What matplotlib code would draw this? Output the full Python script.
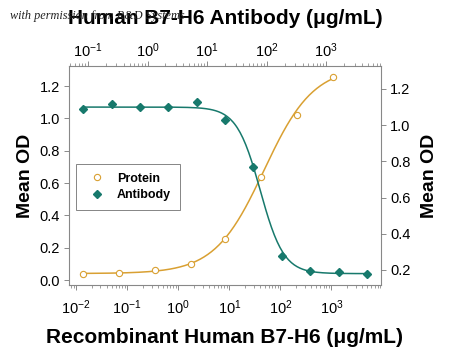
import numpy as np
import matplotlib
matplotlib.use("Agg")
import matplotlib.pyplot as plt
from matplotlib.ticker import LogLocator, NullFormatter, FixedLocator

plt.rcParams['font.family'] = ['Liberation Sans', 'DejaVu Sans']
plt.rcParams['mathtext.fontset'] = 'custom'
plt.rcParams['mathtext.rm'] = 'Liberation Sans'
plt.rcParams['axes.unicode_minus'] = False

# protein (bottom x, left y)
protein_conc = [0.0139, 0.068, 0.347, 1.75, 8.3, 41.9, 214, 1080]
protein_od = [0.035, 0.045, 0.062, 0.099, 0.254, 0.635, 1.02, 1.254]
# antibody (top x, right y)
antibody_conc = [0.0834, 0.25, 0.748, 2.24, 6.71, 20.1, 60, 180, 538, 1611, 4831]
antibody_od = [1.088, 1.117, 1.099, 1.099, 1.130, 1.029, 0.767, 0.279, 0.196, 0.187, 0.178]

# 4PL fit params read by eye: bottom, top, ec50, hill
protein_fit = (0.04, 1.32, 48.0, 0.9)
antibody_fit = (1.10, 0.18, 78.0, 2.2)

orange = '#D9A032'
teal = '#17796C'


def fourpl(x, a, d, c, b):
    return d + (a - d) / (1 + (x / c) ** b)


fig = plt.figure(figsize=(4.5, 3.51), dpi=100)
ax = fig.add_axes([0.1533, 0.188, 0.6933, 0.624])
ax2 = fig.add_axes([0.1533, 0.188, 0.6933, 0.624], frameon=False)

xs = np.logspace(np.log10(protein_conc[0]), np.log10(protein_conc[-1]), 200)
ax.plot(xs, fourpl(xs, *protein_fit), color=orange, lw=1.1)
ax.plot(protein_conc, protein_od, 'o', mfc='white', mec=orange, ms=4.5, mew=0.8, label='Protein')

xs2 = np.logspace(np.log10(antibody_conc[0]), np.log10(antibody_conc[-1]), 200)
ax2.plot(xs2, fourpl(xs2, *antibody_fit), color=teal, lw=1.1)
ax2.plot(antibody_conc, antibody_od, 'D', color=teal, ms=4, label='Antibody')

ax.set_xscale('log')
ax.set_xlim(10 ** -2.14, 10 ** 3.97)
ax.set_ylim(-0.031, 1.324)
ax.yaxis.set_major_locator(FixedLocator([0.0, 0.2, 0.4, 0.6, 0.8, 1.0, 1.2]))
ax.set_yticklabels(['0.0', '0.2', '0.4', '0.6', '0.8', '1.0', '1.2'])

ax2.set_xscale('log')
ax2.set_xlim(10 ** -1.32, 10 ** 3.92)
ax2.set_ylim(0.117, 1.327)
ax2.xaxis.tick_top()
ax2.yaxis.tick_right()
ax2.xaxis.set_label_position('top')
ax2.yaxis.set_label_position('right')
ax2.yaxis.set_major_locator(FixedLocator([0.2, 0.4, 0.6, 0.8, 1.0, 1.2]))
ax2.set_yticklabels(['0.2', '0.4', '0.6', '0.8', '1.0', '1.2'])

for a in (ax, ax2):
    a.xaxis.set_major_locator(LogLocator(base=10, numticks=12))
    a.xaxis.set_minor_locator(LogLocator(base=10, subs=np.arange(2, 10), numticks=12))
    a.xaxis.set_minor_formatter(NullFormatter())
    a.tick_params(which='major', length=3.5, width=0.6, color='#777777', labelsize=10.5, direction='out')
    a.tick_params(which='minor', length=2, width=0.5, color='#777777')
    a.tick_params(axis='y', pad=3)
ax.tick_params(axis='x', pad=6)
ax2.tick_params(axis='x', pad=1)
for s in ax.spines.values():
    s.set_color('#888888')
    s.set_linewidth(0.8)

ax.set_xlabel('Recombinant Human B7-H6 (\u03bcg/mL)', fontsize=15, fontweight='bold', labelpad=8)
ax.set_ylabel('Mean OD', fontsize=14, fontweight='bold', labelpad=4)
ax2.set_xlabel('Human B7-H6 Antibody (\u03bcg/mL)', fontsize=15, fontweight='bold', labelpad=12)
ax2.set_ylabel('Mean OD', fontsize=14, fontweight='bold', labelpad=8)

h1, l1 = ax.get_legend_handles_labels()
h2, l2 = ax2.get_legend_handles_labels()
leg = ax2.legend(h1[-1:] + h2[-1:], l1[-1:] + l2[-1:], loc='upper left',
                 bbox_to_anchor=(0.022, 0.5525), borderaxespad=0, fancybox=False,
                 edgecolor='#666666', prop={'weight': 'bold', 'size': 9},
                 handletextpad=0.6, borderpad=0.7, labelspacing=0.35, handlelength=2.0)
leg.get_frame().set_linewidth(0.7)

fig.text(0.022, 0.955, 'with permission from R&D Systems', fontsize=8.8, style='italic',
         family='Liberation Serif', color='#222222', va='center')

fig.savefig('out.png', dpi=100)
